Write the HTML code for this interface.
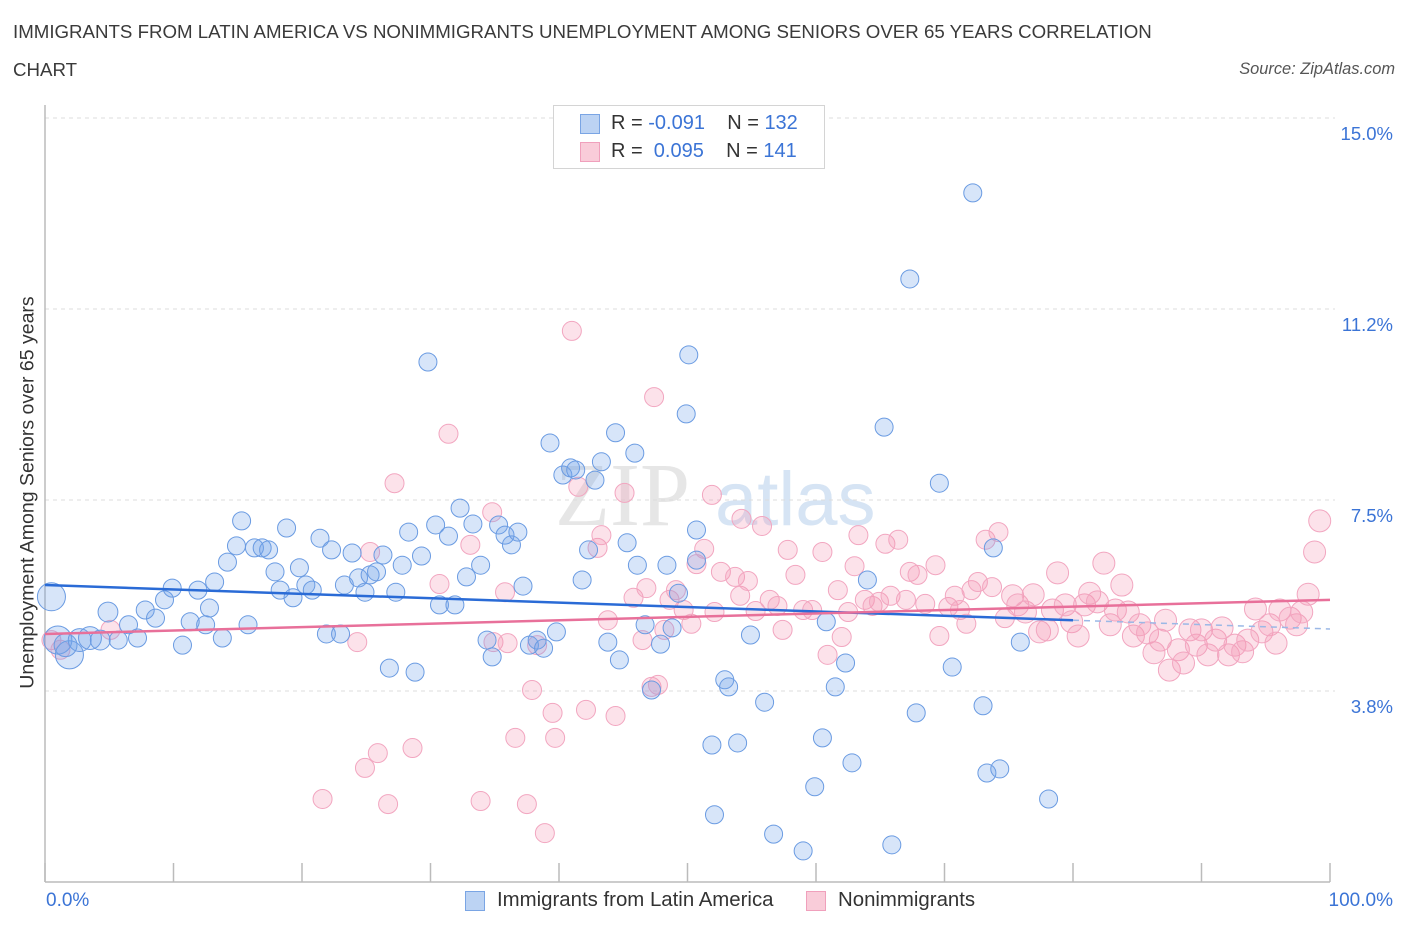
<!DOCTYPE html>
<html><head><meta charset="utf-8">
<style>
body{margin:0;background:#fff;font-family:"Liberation Sans",sans-serif;}
#wrap{position:relative;width:1406px;height:930px;overflow:hidden;}
.t{position:absolute;white-space:nowrap;}
</style></head>
<body>
<div id="wrap">
<div class="t" style="left:13px;top:21px;font-size:18.7px;color:#3a3a3a;">IMMIGRANTS FROM LATIN AMERICA VS NONIMMIGRANTS UNEMPLOYMENT AMONG SENIORS OVER 65 YEARS CORRELATION</div>
<div class="t" style="left:13px;top:59px;font-size:18.7px;color:#3a3a3a;">CHART</div>
<div class="t" style="right:11px;top:60px;font-size:16.4px;font-style:italic;color:#555;">Source: ZipAtlas.com</div>
<svg id="svg" width="1406" height="930" style="position:absolute;left:0;top:0"></svg>
</div>
<script>
const xTicks=[0,10,20,30,40,50,60,70,80,90,100];
const yTicks=[3.75,7.5,11.25,15];
const yTickLabels=["3.8%","7.5%","11.2%","15.0%"];
const blueX=[0.5,1.0,1.9,1.6,2.7,3.5,4.3,4.9,5.7,6.5,7.2,7.8,8.6,9.3,9.9,10.7,11.3,11.9,12.5,12.8,13.2,13.8,14.2,14.9,15.3,15.8,16.3,16.9,17.4,17.9,18.3,18.8,19.3,19.8,20.3,20.8,21.4,21.9,22.3,23.0,23.3,23.9,24.4,24.9,25.3,25.8,26.3,26.8,27.3,27.8,28.3,28.8,29.3,29.8,30.4,30.7,31.4,31.9,32.3,32.8,33.3,33.9,34.4,34.8,35.3,35.8,36.3,36.8,37.2,37.7,38.3,38.8,39.3,39.8,40.3,40.9,41.3,41.8,42.3,42.8,43.3,43.8,44.4,44.7,45.3,45.9,46.1,46.7,47.2,47.9,48.4,48.8,49.3,49.9,50.1,50.7,50.7,51.9,52.1,52.9,53.2,53.9,54.9,56.0,56.7,59.0,59.9,60.5,60.8,61.5,62.3,62.8,64.0,65.3,65.9,67.3,67.8,69.6,70.6,72.2,73.0,73.3,73.8,74.3,75.9,78.1];
const blueY=[5.60,4.75,4.46,4.65,4.75,4.79,4.75,5.30,4.75,5.05,4.79,5.34,5.18,5.54,5.77,4.65,5.11,5.73,5.05,5.38,5.89,4.79,6.28,6.60,7.09,5.05,6.56,6.56,6.52,6.09,5.73,6.95,5.58,6.17,5.83,5.73,6.75,4.87,6.52,4.87,5.83,6.46,5.97,5.69,6.03,6.09,6.42,4.20,5.69,6.22,6.87,4.12,6.40,10.21,7.01,5.44,6.79,5.44,7.34,5.99,7.03,6.22,4.75,4.42,7.01,6.81,6.62,6.87,5.81,4.65,4.75,4.59,8.62,4.91,7.99,8.13,8.09,5.93,6.52,7.89,8.25,4.71,8.82,4.36,6.66,8.42,6.22,5.05,3.77,4.67,6.22,4.99,5.67,9.19,10.35,6.91,6.32,2.69,1.32,3.97,3.83,2.73,4.85,3.53,0.94,0.61,1.87,2.83,5.11,3.83,4.30,2.34,5.93,8.93,0.73,11.84,3.32,7.83,4.22,13.53,3.46,2.14,6.56,2.22,4.71,1.63];
const blueWeight=[3,3,3,2,2,2,1.5,1.5];
const pinkX=[0.5,1.2,5.1,21.6,24.3,24.9,25.3,25.9,26.7,27.2,28.6,30.7,31.4,33.1,33.9,34.8,34.9,35.8,36.0,36.6,37.5,37.9,38.3,38.9,39.5,39.7,41.0,41.5,42.1,43.0,43.3,43.8,44.4,45.1,45.8,46.5,46.8,47.2,47.4,47.7,48.2,48.6,49.1,49.7,50.3,50.7,51.3,51.9,52.1,52.6,53.7,54.1,54.2,54.7,55.3,55.8,56.4,57.0,57.4,57.8,58.4,59.0,59.7,60.5,60.9,61.7,62.0,62.5,63.0,63.3,63.8,64.4,64.9,65.4,65.8,66.4,67.0,67.3,67.9,68.5,69.3,69.6,70.3,70.8,71.2,71.7,72.1,72.6,73.2,73.7,74.2,74.7,75.3,75.7,76.3,76.9,77.4,78.0,78.4,78.8,79.4,79.9,80.4,80.9,81.3,81.9,82.4,82.9,83.3,83.8,84.3,84.7,85.2,85.8,86.3,86.8,87.2,87.5,88.2,88.6,89.1,89.6,90.0,90.5,91.1,91.6,92.1,92.6,93.2,93.6,94.2,94.7,95.3,95.8,96.1,96.9,97.4,97.8,98.3,98.8,99.2];
const pinkY=[4.75,4.56,4.95,1.63,4.71,2.24,6.48,2.53,1.53,7.83,2.63,5.85,8.80,6.62,1.59,7.26,4.71,5.69,4.69,2.83,1.53,3.77,4.65,0.96,3.32,2.83,10.82,7.76,3.38,6.56,6.81,5.14,3.26,7.64,5.58,4.75,5.77,3.83,9.52,3.87,4.95,5.54,5.73,5.34,5.07,6.24,6.54,7.60,5.30,6.09,5.99,5.62,7.13,5.91,5.32,6.99,5.54,5.42,4.95,6.52,6.03,5.34,5.34,6.48,4.46,5.73,4.81,5.30,6.20,6.81,5.54,5.42,5.50,6.64,5.62,6.72,5.54,6.09,6.03,5.46,6.22,4.83,5.40,5.62,5.34,5.07,5.73,5.89,6.72,5.79,6.87,5.18,5.62,5.44,5.30,5.64,4.91,4.95,5.34,6.07,5.44,5.11,4.83,5.44,5.67,5.50,6.26,5.05,5.34,5.83,5.30,4.83,5.05,4.89,4.50,4.75,5.14,4.16,4.56,4.30,4.95,4.65,4.95,4.46,4.75,4.99,4.46,4.65,4.52,4.75,5.36,4.91,5.05,4.69,5.34,5.18,5.05,5.30,5.65,6.48,7.09];
const blueTrend=[5.83,5.14];
const pinkTrend=[4.87,5.54];

const X0=45,X1=1330,Y0=882,YPX=691;
function sx(v){return X0+(X1-X0)*v/100;}
function sy(v){return Y0-(Y0-YPX)*v/3.75;}
const svg=document.getElementById('svg');
const NS='http://www.w3.org/2000/svg';
function mk(tag,attrs,parent){const e=document.createElementNS(NS,tag);for(const k in attrs)e.setAttribute(k,attrs[k]);(parent||svg).appendChild(e);return e;}

let wm=mk('text',{x:555,y:525,'font-size':90,'font-family':'Liberation Serif,serif',fill:'#e6e6e6'});


wm.textContent='ZIP';
let wm2=mk('text',{x:715,y:525,'font-size':76,'font-family':'Liberation Sans,sans-serif',fill:'#d6e4f4'});


wm2.textContent='atlas';

yTicks.forEach((v,i)=>{
  const g=mk('line',{x1:X0,x2:X1+5,y1:sy(v),y2:sy(v),stroke:'#dcdcdc','stroke-dasharray':'4,4'});
  
  
  const t=mk('text',{x:1393,y:sy(v)+22,'text-anchor':'end','font-size':18.5,fill:'#3b74d6','font-family':'Liberation Sans,sans-serif'});
  
  
  t.textContent=yTickLabels[i];
});
let ax=mk('line',{x1:X0,x2:X0,y1:105,y2:Y0,stroke:'#bbb','stroke-width':1.5});


let bx=mk('line',{x1:X0,x2:X1,y1:Y0,y2:Y0,stroke:'#bbb','stroke-width':1.5});


xTicks.forEach(v=>{
  const l=mk('line',{x1:sx(v),x2:sx(v),y1:Y0-19,y2:Y0,stroke:'#bbb','stroke-width':1.5});
  
  
});

function dots(xs,ys,fill,stroke,name,wts,base){
  xs.forEach((x,i)=>{
    const w=wts&&wts[i]?wts[i]:1;
    const r=base*Math.sqrt(w)*(w>1?0.9:1)+(name==='pink-point'&&x>75?1.5:0);
    const c=mk('circle',{cx:sx(x),cy:sy(ys[i]),r:r,fill:fill,stroke:stroke,'stroke-width':1});
    
    
  });
}
dots(pinkX,pinkY,'rgba(244,150,180,0.28)','#f2a6c0','pink-point',null,9.5);
dots(blueX,blueY,'rgba(110,160,232,0.28)','#6a9be2','blue-point',blueWeight,9);

let bl=mk('line',{x1:sx(0),y1:sy(blueTrend[0]),x2:sx(80),y2:sy(blueTrend[1]),stroke:'#2a6bd6','stroke-width':2.5});


const bEnd=blueTrend[0]+(blueTrend[1]-blueTrend[0])*100/80;
let bd=mk('line',{x1:sx(80),y1:sy(blueTrend[1]),x2:sx(100),y2:sy(bEnd),stroke:'#9bb8e6','stroke-width':1.5,'stroke-dasharray':'6,5'});


let pl=mk('line',{x1:sx(0),y1:sy(pinkTrend[0]),x2:sx(100),y2:sy(pinkTrend[1]),stroke:'#e8709a','stroke-width':2.5});


</script>

<div class="t" style="left:-172px;top:481px;width:400px;text-align:center;transform:rotate(-90deg);font-size:19.5px;color:#333;">Unemployment Among Seniors over 65 years</div>
<div class="t" style="left:46px;top:890px;font-size:19px;color:#3b74d6;">0.0%</div>
<div class="t" style="right:13px;top:890px;font-size:19px;color:#3b74d6;">100.0%</div>

<div style="position:absolute;left:553px;top:105px;width:270px;height:62px;border:1px solid #d4d4d4;background:#fff;">
  <div style="position:absolute;left:26px;top:8px;width:18px;height:18px;background:#bcd3f3;border:1px solid #7aa5e4;"></div>
  <div class="t" style="left:57px;top:6px;font-size:20px;color:#333;">R = <span style="color:#3b74d6">-0.091</span>&nbsp;&nbsp;&nbsp; N = <span style="color:#3b74d6">132</span></div>
  <div style="position:absolute;left:26px;top:36px;width:18px;height:18px;background:#f9ccd9;border:1px solid #f0a0bc;"></div>
  <div class="t" style="left:57px;top:34px;font-size:20px;color:#333;">R = &nbsp;<span style="color:#3b74d6">0.095</span>&nbsp;&nbsp;&nbsp; N = <span style="color:#3b74d6">141</span></div>
</div>

<div style="position:absolute;left:465px;top:891px;width:18px;height:18px;background:#bcd3f3;border:1px solid #7aa5e4;"></div>
<div class="t" style="left:497px;top:889px;font-size:20.4px;color:#333;">Immigrants from Latin America</div>
<div style="position:absolute;left:806px;top:891px;width:18px;height:18px;background:#f9ccd9;border:1px solid #f0a0bc;"></div>
<div class="t" style="left:838px;top:889px;font-size:20.4px;color:#333;">Nonimmigrants</div>
</body></html>
